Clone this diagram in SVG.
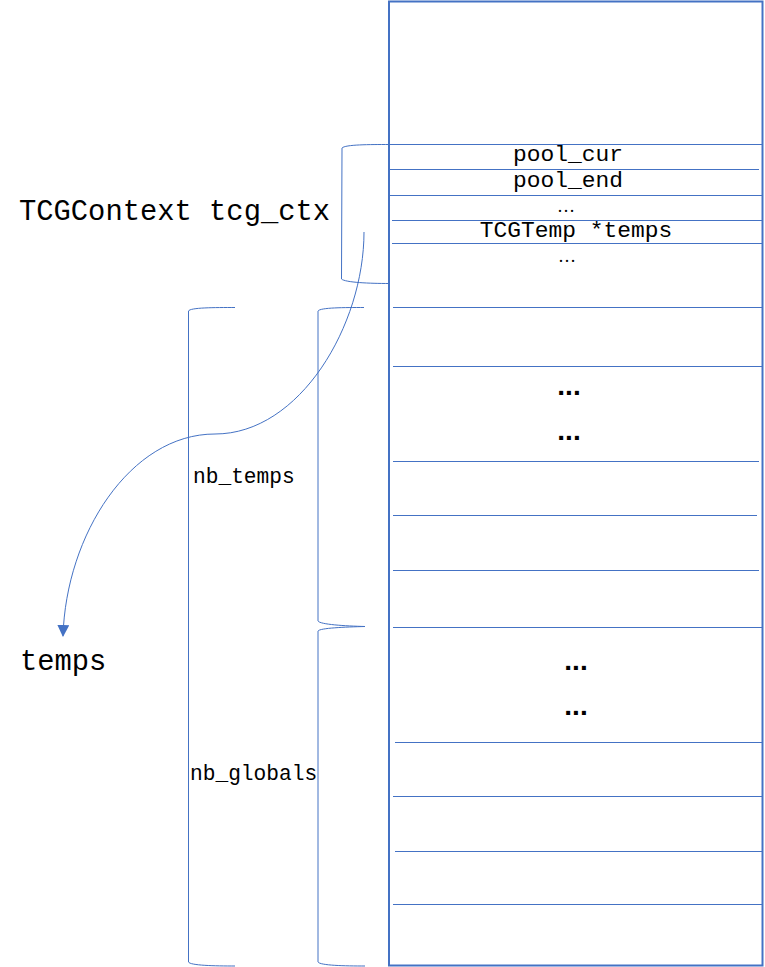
<svg xmlns="http://www.w3.org/2000/svg" width="765" height="967" viewBox="0 0 765 967">
<defs>
<style>
.ln{stroke:#4472C4;stroke-width:1;fill:none}
.box{stroke:#4472C4;stroke-width:2;fill:#fff}
.mono{font-family:"Liberation Mono","Courier New",monospace;fill:#000}
.big{font-size:28.8px}
.mid{font-size:22.9px}
.sm{font-size:21.2px}
.dots{font-family:"Liberation Sans",Arial,sans-serif;font-weight:bold;font-size:28px;fill:#000}
.ell{font-family:"Liberation Serif","Times New Roman",serif;font-size:18px;fill:#000}
</style>
<marker id="arr" viewBox="0 0 12 12" refX="11" refY="6" markerWidth="12" markerHeight="12" markerUnits="userSpaceOnUse" orient="auto">
<path d="M0,0 L12,6 L0,12 Z" fill="#4472C4"/>
</marker>
</defs>
<rect width="765" height="967" fill="#fff"/>
<g id="memory">
<rect class="box" x="389" y="1.5" width="373.5" height="964"/>
<line class="ln" x1="389" y1="144.5" x2="762" y2="144.5"/>
<line class="ln" x1="389" y1="169.5" x2="759" y2="169.5"/>
<line class="ln" x1="389" y1="195.5" x2="762" y2="195.5"/>
<line class="ln" x1="392" y1="220.5" x2="762" y2="220.5"/>
<line class="ln" x1="392" y1="243.5" x2="762" y2="243.5"/>
<line class="ln" x1="393" y1="307.5" x2="762" y2="307.5"/>
<line class="ln" x1="393" y1="366.5" x2="762" y2="366.5"/>
<line class="ln" x1="393" y1="461.5" x2="759" y2="461.5"/>
<line class="ln" x1="393" y1="515.5" x2="757" y2="515.5"/>
<line class="ln" x1="393" y1="570.5" x2="759" y2="570.5"/>
<line class="ln" x1="393" y1="627.5" x2="762" y2="627.5"/>
<line class="ln" x1="395" y1="742.5" x2="762" y2="742.5"/>
<line class="ln" x1="393" y1="796.5" x2="762" y2="796.5"/>
<line class="ln" x1="395" y1="851.5" x2="762" y2="851.5"/>
<line class="ln" x1="393" y1="904.5" x2="762" y2="904.5"/>
</g>
<g id="field-pool_cur"><text class="mono mid" x="568" y="161" text-anchor="middle">pool_cur</text></g>
<g id="field-pool_end"><text class="mono mid" x="568" y="187" text-anchor="middle">pool_end</text></g>
<g id="field-ellipsis1"><text class="ell" x="566" y="212" text-anchor="middle">…</text></g>
<g id="field-temps"><text class="mono mid" x="576" y="237" text-anchor="middle">TCGTemp *temps</text></g>
<g id="field-ellipsis2"><text class="ell" x="567" y="262" text-anchor="middle">…</text></g>
<g id="temps-dots1"><text class="dots" x="569" y="395" text-anchor="middle">...</text></g>
<g id="temps-dots2"><text class="dots" x="569" y="440" text-anchor="middle">...</text></g>
<g id="globals-dots1"><text class="dots" x="576" y="670" text-anchor="middle">...</text></g>
<g id="globals-dots2"><text class="dots" x="576" y="715" text-anchor="middle">...</text></g>
<g id="label-tcg_ctx"><text class="mono big" x="19" y="220">TCGContext tcg_ctx</text></g>
<g id="label-temps"><text class="mono big" x="20" y="670">temps</text></g>
<g id="label-nb_temps"><text class="mono sm" x="193" y="483">nb_temps</text></g>
<g id="label-nb_globals"><text class="mono sm" x="190" y="780">nb_globals</text></g>
<g id="brackets">
<path class="ln" d="M389,144.5 C370,144.5 345,144.5 342,148 L341.5,279 C345,282.5 370,283.5 389,283.5"/>
<path class="ln" d="M235,307.5 C215,307.5 190,307.5 188.5,311 L188.5,962 C190,965.5 215,966 235,966"/>
<path class="ln" d="M364,307.5 C345,307.5 320,307.5 318,311 L318,621 C320,624.5 345,626 365,626.5"/>
<path class="ln" d="M365,626.5 C345,627 320,628 318,631 L318,962 C320,965.5 345,966 365,966"/>
</g>
<g id="connectors">
<path class="ln" d="M364,232 C364,325 300,434 215,434 C130,434 66,535 63,636" marker-end="url(#arr)"/>
</g>
</svg>
